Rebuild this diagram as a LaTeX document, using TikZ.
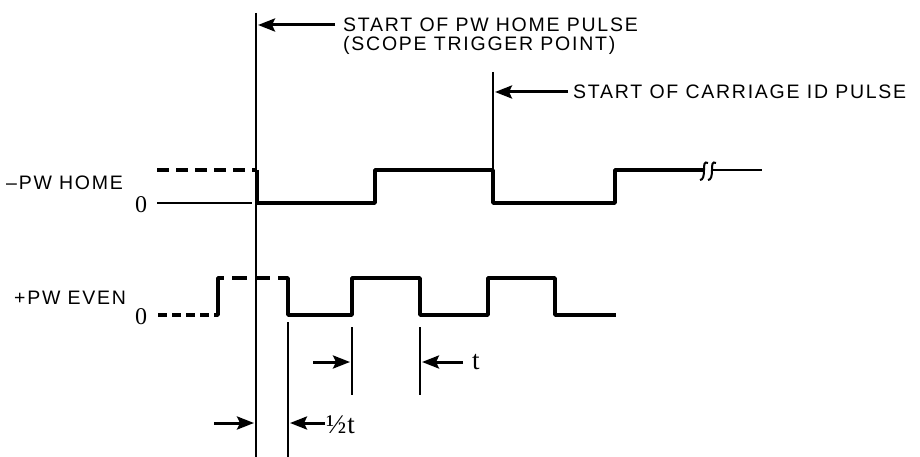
\documentclass[tikz,border=0pt]{standalone}
\usepackage{fontspec}
\setmainfont{Liberation Sans}
\newfontfamily\serifnum{Liberation Serif}
\usetikzlibrary{arrows.meta}
\begin{document}
\begin{tikzpicture}[x=1pt,y=-1pt,
 sig/.style={line width=3.6pt, line join=round},
 thinline/.style={line width=2pt},
 guide/.style={line width=2.4pt},
 dashsig/.style={line width=3.6pt, dash pattern=on 12pt off 7pt},
 arr/.style={line width=3pt, -{Stealth[length=17pt,width=13pt,inset=3pt]}},
 lbl/.style={font=\addfontfeatures{LetterSpace=9}\fontsize{19.5}{22}\selectfont, inner sep=0pt, anchor=west},
 num/.style={font=\serifnum\fontsize{24}{26}\selectfont, inner sep=0pt},
 tlabel/.style={font=\serifnum\fontsize{27}{30}\selectfont, inner sep=0pt, anchor=west}
]
\useasboundingbox (0,0) rectangle (920,457);

% labels
\node[lbl] (l1) at (343,25) {START OF PW HOME PULSE};
\node[lbl] (l2) at (343,45) {(SCOPE TRIGGER POINT)};
\node[lbl] (l3) at (573,92) {START OF CARRIAGE ID PULSE};
\node[lbl] (home) at (6,183) {--PW HOME};
\node[lbl] (even) at (14,298) {+PW EVEN};
\node[num] (z1) at (141,205) {0};
\node[num] (z2) at (141,317) {0};
\node[tlabel] (half) at (326,425) {½\kern1pt t};
\node[tlabel] (tl) at (472,362) {t};

% guide lines
\coordinate (trigtop) at (256,13);
\coordinate (trigbot) at (256,457);
\draw[guide] (trigtop) -- (trigbot);
\coordinate (cartop) at (493,72);
\coordinate (carbot) at (493,170);
\draw[guide] (cartop) -- (carbot);
\coordinate (h1top) at (288,322);
\coordinate (h1bot) at (288,457);
\draw[thinline] (h1top) -- (h1bot);
\coordinate (t1top) at (352,327);
\coordinate (t1bot) at (352,395);
\draw[thinline] (t1top) -- (t1bot);
\coordinate (t2top) at (420,327);
\coordinate (t2bot) at (420,395);
\draw[thinline] (t2top) -- (t2bot);

% arrows
\coordinate (a1s) at (335,25); \coordinate (a1e) at (258,25);
\draw[arr] (a1s) -- (a1e);
\coordinate (a2s) at (568,92); \coordinate (a2e) at (495,92);
\draw[arr] (a2s) -- (a2e);
\coordinate (a3s) at (313,362); \coordinate (a3e) at (350,362);
\draw[arr] (a3s) -- (a3e);
\coordinate (a4s) at (463,362); \coordinate (a4e) at (422,362);
\draw[arr] (a4s) -- (a4e);
\coordinate (a5s) at (214,423); \coordinate (a5e) at (254,423);
\draw[arr] (a5s) -- (a5e);
\coordinate (a6s) at (325,423); \coordinate (a6e) at (290,423);
\draw[arr] (a6s) -- (a6e);

% -PW HOME trace
\draw[dashsig] (157,170) -- (256,170);
\draw[thinline] (157,203) -- (252,203);
\draw[sig] (257,170) -- (257,203) -- (375,203) -- (375,170) -- (493,170)
  -- (493,203) -- (615,203) -- (615,170) -- (703,170);
\draw[line width=2.8pt] (713,170) -- (762,170);
\draw[line width=2pt] (708,163) .. controls (704,161) and (704,165) .. (704,170)
  .. controls (704,176) and (703,180) .. (700,180);
\draw[line width=2pt] (716,163) .. controls (712,161) and (712,165) .. (712,170)
  .. controls (712,176) and (711,180) .. (708,180);

% +PW EVEN trace
\draw[dashsig, dash pattern=on 9pt off 5pt] (158,315) -- (216,315);
\draw[sig] (216,315) -- (218,315) -- (218,278) -- (224,278);
\draw[dashsig, dash pattern=on 15pt off 8pt] (232,278) -- (280,278);
\draw[sig] (280,278) -- (288,278) -- (288,315) -- (352,315) -- (352,278)
  -- (420,278) -- (420,315) -- (488,315) -- (488,278) -- (555,278)
  -- (555,315) -- (616,315);
\end{tikzpicture}
\end{document}
